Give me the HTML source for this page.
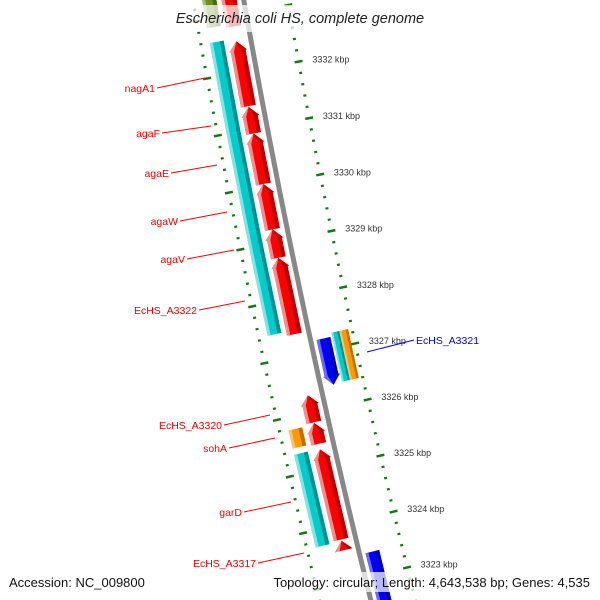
<!DOCTYPE html>
<html><head><meta charset="utf-8"><style>
html,body{margin:0;padding:0;background:#fff;overflow:hidden;width:600px;height:600px;}
svg{display:block;font-family:"Liberation Sans","DejaVu Sans",sans-serif;overflow:hidden;}
</style></head><body>
<svg id="map" width="600" height="600" viewBox="0 0 600 600" xmlns="http://www.w3.org/2000/svg">
<rect width="600" height="600" fill="#fff"/>
<g id="features"></g>
<g id="ticks"></g>
<rect x="0" y="5" width="600" height="27" fill="#fff" opacity="0.72"/>
<rect x="0" y="572" width="600" height="20" fill="#fff" opacity="0.72"/>
<text x="300" y="23" text-anchor="middle" font-size="14.5" font-style="italic" fill="#222">Escherichia coli HS, complete genome</text>
<text x="9" y="587" font-size="13" fill="#111">Accession: NC_009800</text>
<text x="590" y="587" text-anchor="end" font-size="13" fill="#111">Topology: circular; Length: 4,643,538 bp; Genes: 4,535</text>
<g id="labels" font-size="10.5">
<g><line x1="157" y1="88" x2="205" y2="78" stroke="#f00"/><text x="155" y="92" text-anchor="end" fill="#e00">nagA1</text></g>
<g><line x1="162" y1="133" x2="211" y2="126" stroke="#f00"/><text x="160" y="137" text-anchor="end" fill="#e00">agaF</text></g>
<g><line x1="171" y1="173" x2="217" y2="165" stroke="#f00"/><text x="169" y="177" text-anchor="end" fill="#e00">agaE</text></g>
<g><line x1="180" y1="221" x2="227" y2="212" stroke="#f00"/><text x="178" y="225" text-anchor="end" fill="#e00">agaW</text></g>
<g><line x1="187" y1="259" x2="234" y2="250" stroke="#f00"/><text x="185" y="263" text-anchor="end" fill="#e00">agaV</text></g>
<g><line x1="199" y1="310" x2="245" y2="301" stroke="#f00"/><text x="197" y="314" text-anchor="end" fill="#e00">EcHS_A3322</text></g>
<g><line x1="224" y1="425" x2="270" y2="415" stroke="#f00"/><text x="222" y="429" text-anchor="end" fill="#e00">EcHS_A3320</text></g>
<g><line x1="229" y1="448" x2="275" y2="438" stroke="#f00"/><text x="227" y="452" text-anchor="end" fill="#e00">sohA</text></g>
<g><line x1="244" y1="512" x2="291" y2="502" stroke="#f00"/><text x="242" y="516" text-anchor="end" fill="#e00">garD</text></g>
<g><line x1="258" y1="563" x2="304" y2="553" stroke="#f00"/><text x="256" y="567" text-anchor="end" fill="#e00">EcHS_A3317</text></g>
<g><line x1="367" y1="352" x2="414" y2="340" stroke="#00f"/><text x="416" y="344" fill="#00e">EcHS_A3321</text></g>
</g>
</svg>
<script>
// data (kbp)
const featStart = [3331.40,3330.92,3330.03,3329.23,3328.73,3327.38,3325.82,3325.44,3323.74,3323.55,
                   3330.99,3329.27,3328.77,3327.45,3323.71,3325.46,3332.85,3332.80,
                   3326.38,3326.40,3326.40,3322.00];
const featEnd   = [3332.54,3331.39,3330.92,3330.03,3329.23,3328.73,3326.30,3325.81,3325.34,3323.72,
                   3332.59,3330.99,3329.27,3328.77,3325.35,3325.78,3334.00,3334.00,
                   3327.20,3327.27,3327.27,3323.41];
const featColor = ["red","red","red","red","red","red","red","red","red","red",
                   "cyan","cyan","cyan","cyan","cyan","orange","olive","red",
                   "blue","cyan","orange","blue"];
const featTrack = ["li","li","li","li","li","li","li","li","li","li",
                   "lo","lo","lo","lo","lo","lo","lo","li",
                   "ri","roa","rob","ri"];
const featDir   = [1,1,1,1,1,1,1,1,1,1, 0,0,0,0,0,0,0,0, -1,0,0,-1];
const tickKbp = [3323,3324,3325,3326,3327,3328,3329,3330,3331,3332];
const tickLabels = ["3323 kbp","3324 kbp","3325 kbp","3326 kbp","3327 kbp","3328 kbp","3329 kbp","3330 kbp","3331 kbp","3332 kbp"];

const CX=9107, CY=-1563, R0=9000;
function ang(k){ return -(10.45 + (3332-k)*0.3678) * Math.PI/180; }
function pt(r,k){ const a=ang(k); return [CX - r*Math.cos(a), CY - r*Math.sin(a)]; }
const tracks = {li:[9007,9022], lo:[9027,9041], ri:[8980,8994], roa:[8970,8978], rob:[8961,8970]};
const colors = {red:["#ff0000","#ff8a8a","#b80000"], cyan:["#00cccc","#7ae8e8","#008f8f"],
  orange:["#ff9900","#ffc266","#c06f00"], blue:["#0000ff","#6a6aff","#0000a8"], olive:["#6b8e23","#a0bf6a","#4a6618"]};
const NS="http://www.w3.org/2000/svg";
const fl=document.getElementById('features'), tl=document.getElementById('ticks');
function poly(parent, pts, fill){
  const p=document.createElementNS(NS,'polygon');
  p.setAttribute('points', pts.map(q=>q[0].toFixed(2)+','+q[1].toFixed(2)).join(' '));
  p.setAttribute('fill', fill);
  parent.appendChild(p); return p;
}
function band(k1,k2,ra,rb){ return [pt(ra,k1),pt(ra,k2),pt(rb,k2),pt(rb,k1)]; }
// backbone
(function(){
  const p=document.createElementNS(NS,'path');
  const a=pt(R0,3333.6), b=pt(R0,3321.9), m=pt(R0,3327.75);
  p.setAttribute('d',`M${a[0]},${a[1]} Q${2*m[0]-(a[0]+b[0])/2},${2*m[1]-(a[1]+b[1])/2} ${b[0]},${b[1]}`);
  p.setAttribute('stroke','#888'); p.setAttribute('stroke-width','5'); p.setAttribute('fill','none');
  
  
  fl.appendChild(p);
})();
const HEAD=0.17;
for(let i=0;i<featStart.length;i++){
  const g=document.createElementNS(NS,'g');
  
  
  fl.appendChild(g);
  const [ri,ro]=tracks[featTrack[i]], c=colors[featColor[i]];
  const k1=featStart[i], k2=featEnd[i], d=featDir[i], rm=(ri+ro)/2, w=ro-ri;
  let outline, hi, sh;
  if(d===0){
    outline=band(k1,k2,ri,ro);
    hi=band(k1,k2,ro-w*0.22,ro);
    sh=band(k1,k2,ri,ri+w*0.28);
  } else if(d===1){
    const kb=Math.max(k1,k2-HEAD);
    outline=[pt(ri,k1),pt(ri,kb),pt(ri-1.5,kb),pt(rm,k2),pt(ro+1.5,kb),pt(ro,kb),pt(ro,k1)];
    hi=[pt(ro-w*0.22,k1),pt(ro-w*0.22,kb),pt(rm,k2),pt(ro+1.5,kb),pt(ro,kb),pt(ro,k1)];
    sh=[pt(ri,k1),pt(ri,kb),pt(ri-1.5,kb),pt(rm,k2),pt(ri+w*0.28,kb),pt(ri+w*0.28,k1)];
  } else {
    const kb=Math.min(k2,k1+HEAD);
    outline=[pt(ri,k2),pt(ri,kb),pt(ri-1.5,kb),pt(rm,k1),pt(ro+1.5,kb),pt(ro,kb),pt(ro,k2)];
    hi=[pt(ro-w*0.22,k2),pt(ro-w*0.22,kb),pt(rm,k1),pt(ro+1.5,kb),pt(ro,kb),pt(ro,k2)];
    sh=[pt(ri,k2),pt(ri,kb),pt(ri-1.5,kb),pt(rm,k1),pt(ri+w*0.28,kb),pt(ri+w*0.28,k2)];
  }
  poly(g,outline,c[0]); poly(g,hi,c[1]); poly(g,sh,c[2]);
}
// tick rings
const rings=[8957,9050];
for(const rr of rings){
  for(let k=3322.0;k<=3333.4;k+=0.2){
    const kk=Math.round(k*10)/10;
    const major=Math.abs(kk-Math.round(kk))<0.01;
    const h=major?4:1.5;
    const a=pt(rr-h,kk), b=pt(rr+h,kk);
    const l=document.createElementNS(NS,'line');
    l.setAttribute('x1',a[0]);l.setAttribute('y1',a[1]);l.setAttribute('x2',b[0]);l.setAttribute('y2',b[1]);
    l.setAttribute('stroke','#117a11'); l.setAttribute('stroke-width', major?'2.5':'2.2');
    
    
    tl.appendChild(l);
  }
}
for(let i=0;i<tickKbp.length;i++){
  const p=pt(8957-14,tickKbp[i]);
  const t=document.createElementNS(NS,'text');
  t.setAttribute('x',p[0]); t.setAttribute('y',p[1]+3.5);
  t.setAttribute('font-size','9'); t.setAttribute('fill','#333');
  t.textContent=tickLabels[i];
  
  
  tl.appendChild(t);
}
</script>
</body></html>
